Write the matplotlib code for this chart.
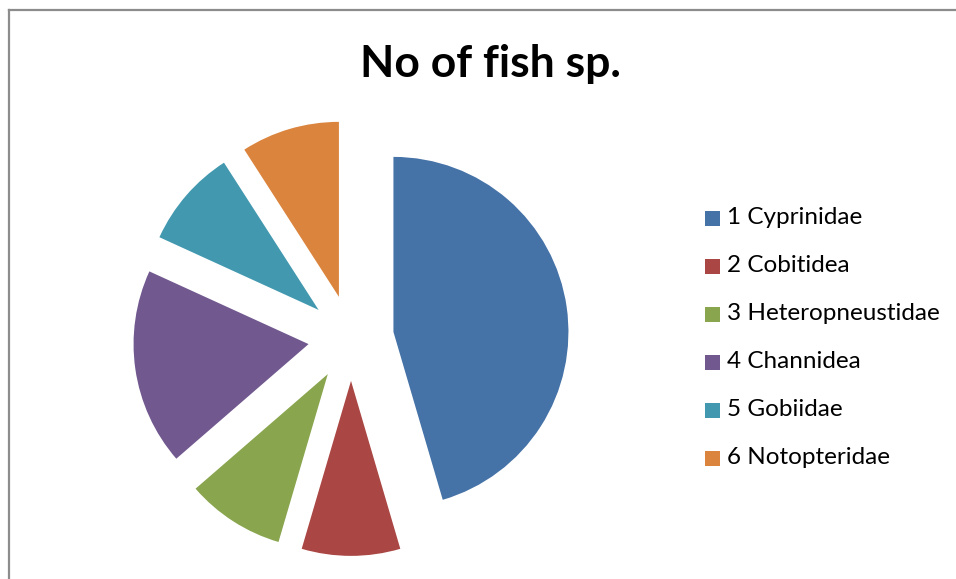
import matplotlib
matplotlib.use("Agg")
import matplotlib.pyplot as plt
from matplotlib.lines import Line2D
from matplotlib.patches import Rectangle

# Fish families and number of species
families = ["1 Cyprinidae", "2 Cobitidea", "3 Heteropneustidae",
            "4 Channidea", "5 Gobiidae", "6 Notopteridae"]
species = [5, 1, 1, 2, 1, 1]
colors = ["#4572A7", "#AA4643", "#89A54E", "#71588F", "#4198AF", "#DB843D"]

W, H = 956, 579
fig = plt.figure(figsize=(W / 100, H / 100), dpi=100)
fig.patch.set_facecolor("white")

# chart area frame (left and top edges visible)
fig.add_artist(Line2D([9 / W, 9 / W], [0, 1 - 9.5 / H], transform=fig.transFigure,
                      color="#8c8c8c", lw=1.6))
fig.add_artist(Line2D([9 / W, 1], [1 - 9.5 / H, 1 - 9.5 / H], transform=fig.transFigure,
                      color="#8c8c8c", lw=1.6))

# pie axes: square 460 px centred on (351, 338)
cx, cy, side = 351, 338, 460
ax = fig.add_axes([(cx - side / 2) / W, (H - cy - side / 2) / H, side / W, side / H])
ax.set_aspect("equal")
lim = side / 2 / 175
ax.axis("off")

wedges, _ = ax.pie(species, colors=colors, startangle=90, counterclock=False,
                   explode=[0.245] * len(species), radius=1.0,
                   wedgeprops=dict(linewidth=0))
ax.set_xlim(-lim, lim)
ax.set_ylim(-lim, lim)

fig.text(490 / W, 1 - 64 / H, "No of fish sp.", ha="center", va="center",
         fontsize=32, fontweight="bold", family="Lato")

# legend
for i, (lab, w) in enumerate(zip(families, wedges)):
    y = 218 + i * 48
    fig.add_artist(Rectangle((705 / W, 1 - (y + 7.5) / H), 15 / W, 15 / H,
                             transform=fig.transFigure, facecolor=w.get_facecolor(),
                             edgecolor="none"))
    fig.text(727 / W, 1 - y / H, lab, ha="left", va="center",
             fontsize=17.5, family="Lato", color="black")

fig.savefig("out.png", dpi=100, facecolor="white")
